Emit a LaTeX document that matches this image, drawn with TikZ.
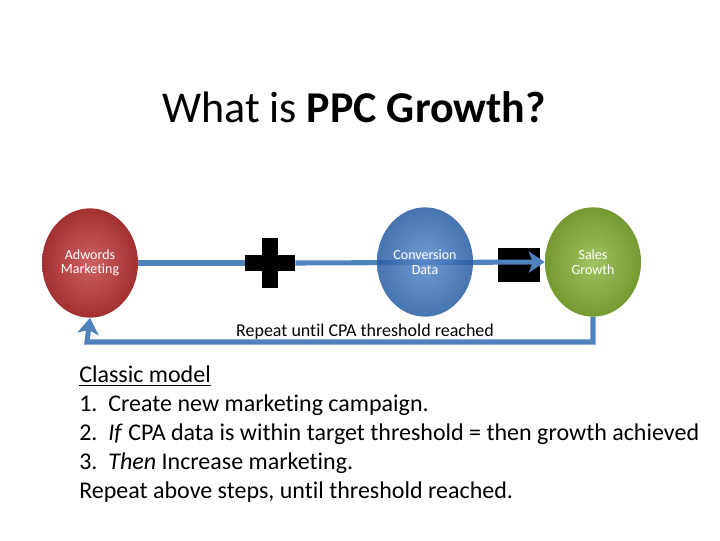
\documentclass[tikz,border=0pt]{standalone}
\usepackage{fontspec}
\setmainfont[Ligatures=NoCommon]{Carlito}
\usetikzlibrary{arrows.meta}
\definecolor{lblue}{HTML}{4F81BD}
\definecolor{cred}{HTML}{C0393A}
\definecolor{cblue}{HTML}{2E6DBF}
\definecolor{cgreen}{HTML}{8AB43A}
\tikzset{
  bub/.style={ellipse, minimum width=72pt, minimum height=82pt, inner sep=0pt, text=white, font=\fontsize{10.5pt}{11pt}\selectfont, align=center, draw=none},
  conn/.style={lblue, line width=3.8pt},
  body/.style={anchor=west, font=\fontsize{18pt}{20pt}\selectfont, inner sep=0pt}
}
\usetikzlibrary{shapes.geometric}
\begin{document}
\begin{tikzpicture}[x=0.75pt,y=-0.75pt]
\useasboundingbox (0,0) rectangle (720,540);
\node[font=\fontsize{33pt}{36pt}\selectfont] (title) at (354,107) {What is \textbf{PPC Growth?}};
\node[bub, inner color=cred!80!white, outer color=cred!85!black, shading=radial] (a) at (90,263) {Adwords\\Marketing};
\node[inner sep=0pt, minimum size=50*0.75pt] (plus) at (270,263) {};
\fill[black] (262,238) rectangle (278,288);
\fill[black] (245,255) rectangle (295,271);
\node[inner sep=0pt, minimum width=42*0.75pt, minimum height=34*0.75pt, fill=black] (minus) at (519,265) {};
\node[bub, inner color=cgreen!80!white, outer color=cgreen!85!black, shading=radial] (g) at (593,262) {Sales\\Growth};
\draw[conn] (a.east) -- (plus.west);
\draw[conn, -{Stealth[length=12pt,width=16pt,inset=3pt]}] (plus.east) -- (g.west);
\node[bub, inner color=cblue!80!white, outer color=cblue!85!black, shading=radial, fill opacity=0.85, text opacity=1] (c) at (425,262) {Conversion\\Data};
\coordinate (c1) at (593,342);
\coordinate (c2) at (87,342);
\draw[conn, -{Stealth[length=12pt,width=16pt,inset=3pt]}] (g.south) -- (c1) -- (c2) -- (a.south);
\node[font=\fontsize{13.5pt}{15pt}\selectfont] (rep) at (365,332) {Repeat until CPA threshold reached};
\node[body] (l0) at (79,376) {\underline{Classic model}};
\node[body] (l1) at (79,405) {1.\ \ Create new marketing campaign.};
\node[body] (l2) at (79,434) {2.\ \ \textit{If} CPA data is within target threshold = then growth achieved};
\node[body] (l3) at (79,463) {3.\ \ \textit{Then} Increase marketing.};
\node[body] (l4) at (79,492) {Repeat above steps, until threshold reached.};
\end{tikzpicture}
\end{document}
